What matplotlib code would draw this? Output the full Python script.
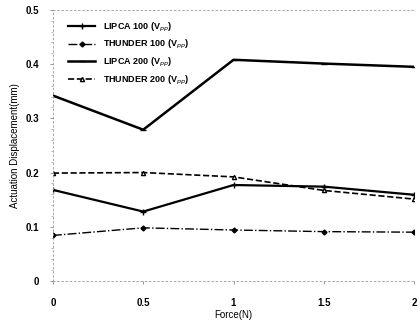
import matplotlib
matplotlib.use('Agg')
import matplotlib.pyplot as plt

force = [0, 0.5, 1, 1.5, 2]
lipca_100 = [0.168, 0.128, 0.177, 0.174, 0.159]
thunder_100 = [0.084, 0.098, 0.094, 0.091, 0.090]
lipca_200 = [0.342, 0.279, 0.408, 0.401, 0.395]
thunder_200 = [0.199, 0.200, 0.192, 0.167, 0.151]

plt.rcParams['font.family'] = ['Liberation Sans', 'DejaVu Sans']

fig = plt.figure(figsize=(4.2, 3.2), dpi=100)
ax = fig.add_axes([0.126, 0.122, 0.86, 0.847])

ax.plot(force, lipca_100, color='black', lw=1.6, marker='+', ms=4, mew=1,
        label='LIPCA 100 (V$_{pp}$)')
ax.plot(force, thunder_100, color='black', lw=1.0, ls='-.', marker='D', ms=2.5,
        label='THUNDER 100 (V$_{pp}$)')
ax.plot(force, lipca_200, color='black', lw=1.8, marker='_', ms=4,
        label='LIPCA 200 (V$_{pp}$)')
ax.plot(force, thunder_200, color='black', lw=1.2, ls='--', marker='^', ms=3,
        mfc='white', label='THUNDER 200 (V$_{pp}$)')

ax.set_xlim(0, 2)
ax.set_ylim(0, 0.5)
ax.set_xticks(force)
ax.set_xticklabels(['0', '0.5', '1', '1.5', '2'])
ax.set_yticks([0, 0.1, 0.2, 0.3, 0.4, 0.5])
ax.set_yticklabels(['0', '0.1', '0.2', '0.3', '0.4', '0.5'])
ax.set_yticks([i * 0.02 for i in range(26)], minor=True)
ax.tick_params(labelsize=7, length=2, width=0.6, color='#888888')
ax.tick_params(axis='x', pad=10)
ax.tick_params(axis='y', pad=8)
ax.tick_params(which='minor', length=1.5, color='#aaaaaa')
for lab in ax.get_xticklabels() + ax.get_yticklabels():
    lab.set_fontweight('bold')

ax.spines['right'].set_visible(False)
for s in ['left', 'top', 'bottom']:
    ax.spines[s].set_color('#999999')
    ax.spines[s].set_linewidth(0.6)
    ax.spines[s].set_linestyle((0, (2, 3)))

ax.set_xlabel('Force(N)', fontsize=7, labelpad=2)
ax.set_ylabel('Actuation Displacement(mm)', fontsize=7, labelpad=4)

ax.legend(loc='upper left', bbox_to_anchor=(0.02, 0.99), frameon=False,
          handlelength=3, labelspacing=0.5,
          prop={'weight': 'bold', 'size': 6.5})

fig.savefig('out.png', dpi=100)
